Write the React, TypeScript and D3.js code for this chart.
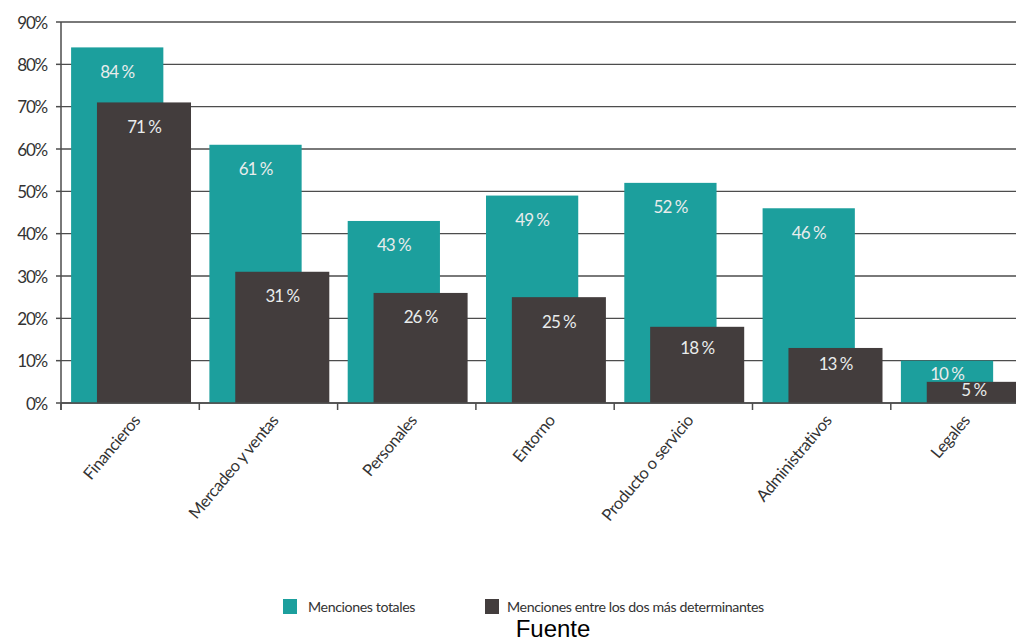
import { useEffect, useRef } from "react";
import * as d3 from "d3";

const categories = [
  "Financieros",
  "Mercadeo y ventas",
  "Personales",
  "Entorno",
  "Producto o servicio",
  "Administrativos",
  "Legales",
];
const totalMentions = [84, 61, 43, 49, 52, 46, 10];
const topTwoMentions = [71, 31, 26, 25, 18, 13, 5];
const yTicks = [0, 10, 20, 30, 40, 50, 60, 70, 80, 90];
const seriesNames = ["Menciones totales", "Menciones entre los dos más determinantes"];

const W = 1016;
const H = 643;
const TEAL = "#1c9f9d";
const DARK = "#433d3d";
const FONT = "Lato, 'Noto Sans', sans-serif";

export default function App() {
  const ref = useRef<SVGSVGElement>(null);

  useEffect(() => {
    const svg = d3.select(ref.current);
    svg.selectAll("*").remove();

    const x0 = 61;
    const step = 138.3;
    const x = d3
      .scaleBand<string>()
      .domain(categories)
      .range([x0, x0 + step * categories.length])
      .padding(0);
    const y = d3.scaleLinear().domain([0, 90]).range([403, 22]);
    const bw = x.bandwidth();

    // gridlines
    svg
      .append("g")
      .selectAll("line")
      .data(yTicks)
      .join("line")
      .attr("x1", x0)
      .attr("x2", W)
      .attr("y1", (d) => y(d))
      .attr("y2", (d) => y(d))
      .attr("stroke", "#4d4d4d")
      .attr("stroke-width", 1.3);

    const series = [
      { values: totalMentions, color: TEAL, from: 0.073, to: 0.74 },
      { values: topTwoMentions, color: DARK, from: 0.26, to: 0.94 },
    ];

    series.forEach((s) => {
      const g = svg.append("g");
      g.selectAll("rect")
        .data(s.values)
        .join("rect")
        .attr("x", (_, i) => x(categories[i])! + bw * s.from)
        .attr("width", bw * (s.to - s.from))
        .attr("y", (d) => y(d))
        .attr("height", (d) => y(0) - y(d))
        .attr("fill", s.color);
      g.selectAll("text")
        .data(s.values)
        .join("text")
        .attr("x", (_, i) => x(categories[i])! + bw * (s.from + s.to) / 2)
        .attr("y", (d) => {
          const h = y(0) - y(d);
          return y(d) + Math.min(24, h * 0.25 + 2);
        })
        .attr("dominant-baseline", "central")
        .attr("text-anchor", "middle")
        .attr("fill", "#e9ecec")
        .attr("font-family", FONT)
        .attr("font-size", 17)
        .attr("letter-spacing", -1)
        .text((d) => `${d} %`);
    });

    // y axis
    svg
      .append("line")
      .attr("x1", x0)
      .attr("x2", x0)
      .attr("y1", y(90))
      .attr("y2", y(0) + 7)
      .attr("stroke", "#4d4d4d")
      .attr("stroke-width", 1.5);
    svg
      .append("g")
      .selectAll("line")
      .data(yTicks)
      .join("line")
      .attr("x1", x0 - 5)
      .attr("x2", x0)
      .attr("y1", (d) => y(d))
      .attr("y2", (d) => y(d))
      .attr("stroke", "#4d4d4d")
      .attr("stroke-width", 1.5);
    svg
      .append("g")
      .selectAll("text")
      .data(yTicks)
      .join("text")
      .attr("x", 47)
      .attr("y", (d) => y(d))
      .attr("dominant-baseline", "central")
      .attr("text-anchor", "end")
      .attr("fill", "#333")
      .attr("font-family", FONT)
      .attr("font-size", 17)
      .attr("letter-spacing", -1.2)
      .text((d) => `${d}%`);

    // x axis baseline + category ticks
    svg
      .append("line")
      .attr("x1", x0)
      .attr("x2", W)
      .attr("y1", y(0))
      .attr("y2", y(0))
      .attr("stroke", "#4d4d4d")
      .attr("stroke-width", 1.5);
    svg
      .append("g")
      .selectAll("line")
      .data(categories)
      .join("line")
      .attr("x1", (d) => x(d)!)
      .attr("x2", (d) => x(d)!)
      .attr("y1", y(0))
      .attr("y2", y(0) + 7)
      .attr("stroke", "#4d4d4d")
      .attr("stroke-width", 1.5);
    svg
      .append("g")
      .selectAll("text")
      .data(categories)
      .join("text")
      .attr(
        "transform",
        (d) => `translate(${x(d)! + bw / 2 + 11},${y(0) + 18}) rotate(-50)`
      )
      .attr("text-anchor", "end")
      .attr("fill", "#333")
      .attr("font-family", FONT)
      .attr("font-size", 16.5)
      .attr("letter-spacing", -0.4)
      .text((d) => d);

    // legend
    const legend = [
      { name: seriesNames[0], color: TEAL, x: 283, tx: 308 },
      { name: seriesNames[1], color: DARK, x: 485, tx: 507 },
    ];
    const lg = svg.append("g");
    legend.forEach((l) => {
      lg.append("rect")
        .attr("x", l.x)
        .attr("y", 599)
        .attr("width", 14)
        .attr("height", 15)
        .attr("fill", l.color);
      lg.append("text")
        .attr("x", l.tx)
        .attr("y", 606)
        .attr("dominant-baseline", "central")
        .attr("fill", "#333")
        .attr("font-family", FONT)
        .attr("font-size", 14.2)
        .attr("letter-spacing", -0.4)
        .text(l.name);
    });

    svg
      .append("text")
      .attr("x", 553)
      .attr("y", 637)
      .attr("text-anchor", "middle")
      .attr("fill", "#000")
      .attr("font-family", "'Liberation Sans', Arial, sans-serif")
      .attr("font-size", 24)
      .text("Fuente");
  }, []);

  return (
    <svg
      ref={ref}
      width={W}
      height={H}
      style={{ position: "absolute", left: 0, top: 0, background: "#fff" }}
    />
  );
}
